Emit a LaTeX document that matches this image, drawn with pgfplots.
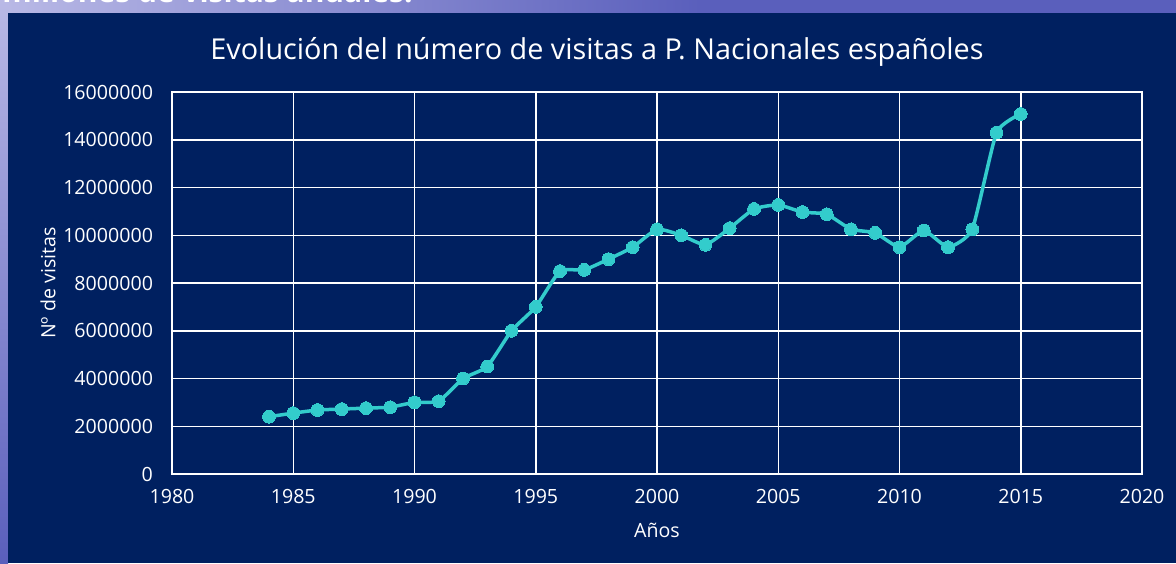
\documentclass[border=0pt]{standalone}
\usepackage{pgfplots}
\pgfplotsset{compat=1.18}
\usepackage{fontspec}
\setmainfont{Open Sans}
\definecolor{navybg}{RGB}{0,32,96}
\definecolor{lineteal}{RGB}{51,204,204}
\definecolor{slide}{RGB}{90,95,188}
\definecolor{slidelight}{RGB}{185,185,230}
\begin{document}
\begin{tikzpicture}
\begin{scope}[x=0.5pt,y=0.5pt]
\useasboundingbox (0,0) rectangle (1176,563);
\end{scope}
\begin{scope}
\clip (0pt,0pt) rectangle (588pt,281.5pt);
\begin{scope}[x=0.5pt,y=0.5pt]
\fill[slide] (0,0) rectangle (1176,563);
\shade[left color=slidelight, right color=slide] (0,540) rectangle (700,563);
\shade[top color=slidelight, bottom color=slide] (0,0) rectangle (8,563);
\node[anchor=base west, font=\bfseries\fontsize{15}{17}\selectfont, text=white, inner sep=0pt] at (2,560) {millones de visitas anuales.};
\fill[navybg] (8,0) rectangle (1176,550);
\node[font=\fontsize{14.4}{16}\selectfont, text=white, anchor=base, inner sep=0pt] at (597,503) {Evolución del número de visitas a P. Nacionales españoles};
\end{scope}
\end{scope}
\begin{axis}[
  at={(86pt,44.5pt)}, anchor=south west,
  scale only axis, width=485pt, height=191pt,
  xmin=1980, xmax=2020, ymin=0, ymax=16000000,
  xtick={1980,1985,...,2020},
  ytick={0,2000000,4000000,6000000,8000000,10000000,12000000,14000000,16000000},
  scaled y ticks=false, scaled x ticks=false,
  /pgf/number format/.cd, fixed, 1000 sep={}, assume math mode=true,
  /pgfplots/.cd,
  grid=major, grid style={white, line width=0.75pt},
  axis line style={white, line width=0.75pt},
  major tick length=0pt,
  tick label style={font=\fontsize{9.8}{11}\selectfont, text=white},
  x tick label style={yshift=-4pt},
  y tick label style={xshift=-6pt},
  xlabel={Años}, ylabel={Nº de visitas},
  label style={font=\fontsize{9.8}{11}\selectfont, text=white},
  xlabel style={at={(rel axis cs:0.5,0)}, anchor=base, yshift=-31.5pt},
  ylabel style={at={(rel axis cs:0,0.5)}, anchor=center, yshift=62pt},
]
\addplot[lineteal, line width=1.75pt, smooth, tension=0.3, mark=*, mark size=3.2pt, mark options={fill=lineteal, draw=lineteal, line width=0pt}] coordinates {
(1984,2400000) (1985,2550000) (1986,2680000) (1987,2720000) (1988,2760000)
(1989,2800000) (1990,3000000) (1991,3050000) (1992,4000000) (1993,4500000)
(1994,6000000) (1995,7000000) (1996,8500000) (1997,8550000) (1998,9000000)
(1999,9500000) (2000,10250000) (2001,10000000) (2002,9600000) (2003,10300000)
(2004,11100000) (2005,11270000) (2006,10970000) (2007,10880000) (2008,10250000)
(2009,10100000) (2010,9500000) (2011,10200000) (2012,9500000) (2013,10250000)
(2014,14300000) (2015,15080000)
};
\end{axis}
\end{tikzpicture}
\end{document}
